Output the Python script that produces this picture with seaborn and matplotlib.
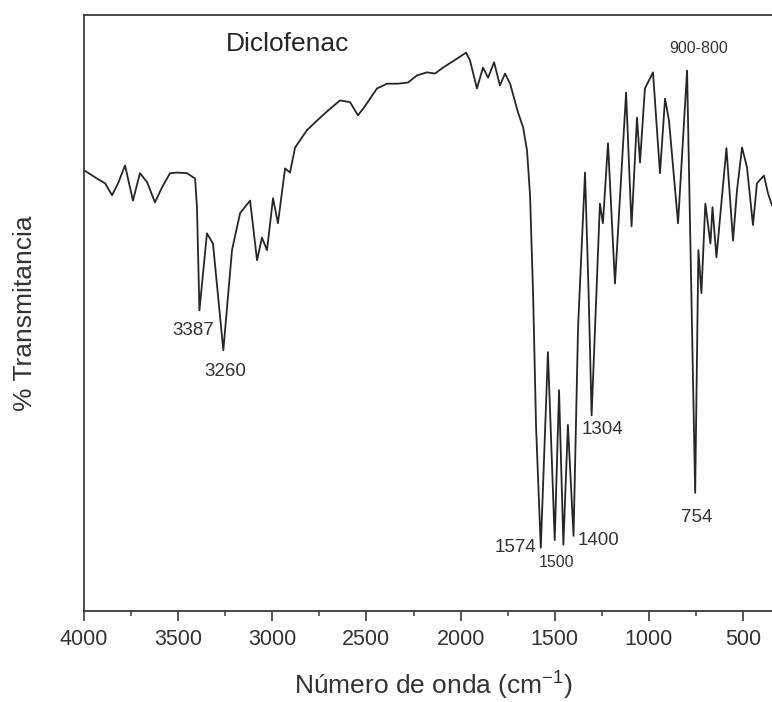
import matplotlib
matplotlib.use("Agg")
import matplotlib.pyplot as plt
from matplotlib.ticker import MultipleLocator
import seaborn as sns
import pandas as pd

# FTIR spectrum of diclofenac: wavenumber (cm-1) vs. transmittance (%)
wavenumber = [4000, 3931, 3888, 3851, 3819, 3782, 3740, 3703, 3665, 3623,
              3586, 3543, 3506, 3453, 3410, 3400, 3387, 3347, 3315, 3260,
              3214, 3171, 3118, 3081, 3055, 3028, 2996, 2970, 2932, 2906,
              2879, 2816, 2763, 2704, 2640, 2587, 2545, 2513, 2444, 2391,
              2332, 2279, 2231, 2178, 2136, 2093, 2019, 1971, 1950, 1913,
              1881, 1854, 1822, 1791, 1764, 1737, 1695, 1668, 1647, 1631,
              1615, 1599, 1574, 1536, 1500, 1477, 1454, 1430, 1400, 1376,
              1339, 1320, 1304, 1260, 1244, 1217, 1180, 1121, 1092, 1063,
              1047, 1021, 978, 941, 914, 893, 845, 797, 754, 737,
              721, 700, 673, 662, 641, 615, 588, 553, 532, 505,
              479, 447, 426, 389, 367, 346]
transmittance = [73.9, 72.5, 71.7, 69.7, 71.7, 74.7, 68.8, 73.4, 71.9, 68.5,
                 71.0, 73.4, 73.5, 73.4, 72.5, 67.7, 50.4, 63.3, 61.6, 43.7,
                 60.5, 66.7, 68.8, 58.8, 62.6, 60.5, 69.2, 65.0, 74.2, 73.5,
                 77.7, 80.6, 82.2, 83.9, 85.6, 85.3, 83.1, 84.4, 87.6, 88.4,
                 88.4, 88.6, 89.8, 90.3, 90.1, 91.1, 92.6, 93.6, 92.3, 87.6,
                 91.1, 89.4, 92.0, 88.1, 90.1, 88.4, 83.6, 81.1, 77.2, 69.7,
                 53.3, 30.8, 10.6, 43.4, 11.9, 37.0, 11.1, 31.2, 12.6, 47.6,
                 73.5, 53.3, 32.8, 68.3, 65.0, 78.4, 54.9, 86.9, 64.5, 82.7,
                 75.2, 87.6, 90.3, 73.4, 85.9, 82.2, 65.0, 90.6, 19.8, 60.5,
                 53.3, 68.3, 61.6, 67.7, 59.3, 68.3, 77.6, 62.1, 70.5, 77.7,
                 74.4, 64.7, 71.7, 73.0, 70.0, 68.0]

# Band assignments written next to the spectrum
band_labels = ["3387", "3260", "1574", "1500", "1400", "1304", "754", "900-800"]
band_positions = [3387, 3260, 1574, 1500, 1400, 1304, 754, 797]

x_ticks = [4000, 3500, 3000, 2500, 2000, 1500, 1000, 500]

sns.set_theme(style="ticks")
plt.rcParams["font.family"] = ["Liberation Sans", "DejaVu Sans"]
plt.rcParams["mathtext.default"] = "regular"

df = pd.DataFrame({"wn": wavenumber, "T": transmittance})

fig = plt.figure(figsize=(7.72, 7.02), dpi=100)
W, H = 772, 702
ax_left, ax_right, ax_top, ax_bottom = 84, 772, 14.5, 611
ax = fig.add_axes([ax_left / W, 1 - ax_bottom / H,
                   (ax_right - ax_left) / W, (ax_bottom - ax_top) / H])

ink = "#262626"
sns.lineplot(data=df, x="wn", y="T", sort=False, estimator=None,
             color=ink, linewidth=1.3, ax=ax)

ax.set_xlim(4000, 346)
ax.set_ylim(0, 100)
ax.set_xticks(x_ticks)
ax.set_xticklabels([str(t) for t in x_ticks])
ax.xaxis.set_minor_locator(MultipleLocator(250))
ax.set_yticks([])
ax.set_xlabel("")
ax.set_ylabel("")

for side in ["left", "bottom", "top"]:
    ax.spines[side].set_color("#3a3a3a")
    ax.spines[side].set_linewidth(1.3)
ax.spines["right"].set_visible(False)

ax.tick_params(axis="x", which="major", direction="out", length=7, width=1.2,
               color="#3a3a3a", labelsize=15.5, labelcolor="#333333", pad=6)
ax.tick_params(axis="x", which="minor", direction="out", length=3.5,
               width=1.1, color="#3a3a3a")

# Peak annotations (offsets in points)
offsets = {
    "3387": (-4.5, -14.5, "center"),
    "3260": (1.5, -15.0, "center"),
    "1574": (-3.5, 0.0, "right"),
    "1500": (1.0, -16.5, "center"),
    "1400": (3.0, -3.5, "left"),
    "1304": (8.0, -10.0, "center"),
    "754": (1.0, -18.0, "center"),
    "900-800": (8.5, 16.0, "center"),
}
sizes = {"1500": 11.5, "900-800": 11.5}
lookup = dict(zip(wavenumber, transmittance))
for lab, pos in zip(band_labels, band_positions):
    dx, dy, ha = offsets[lab]
    ax.annotate(lab, xy=(pos, lookup[pos]), xytext=(dx, dy),
                textcoords="offset points", ha=ha, va="center",
                fontsize=sizes.get(lab, 13.5), color="#333333")

ax.text((288 - ax_left) / (ax_right - ax_left),
        (ax_bottom - 44) / (ax_bottom - ax_top),
        "Diclofenac", transform=ax.transAxes, ha="center", va="center",
        fontsize=19, color="#262626")

fig.text(25 / W, 1 - 313 / H, "% Transmitancia", rotation=90,
         ha="center", va="center", fontsize=19, color="#333333")
fig.text(433 / W, 1 - 686 / H, "Número de onda (cm$^{-1}$)",
         ha="center", va="center", fontsize=19, color="#333333")

fig.savefig("out.png", dpi=100)
